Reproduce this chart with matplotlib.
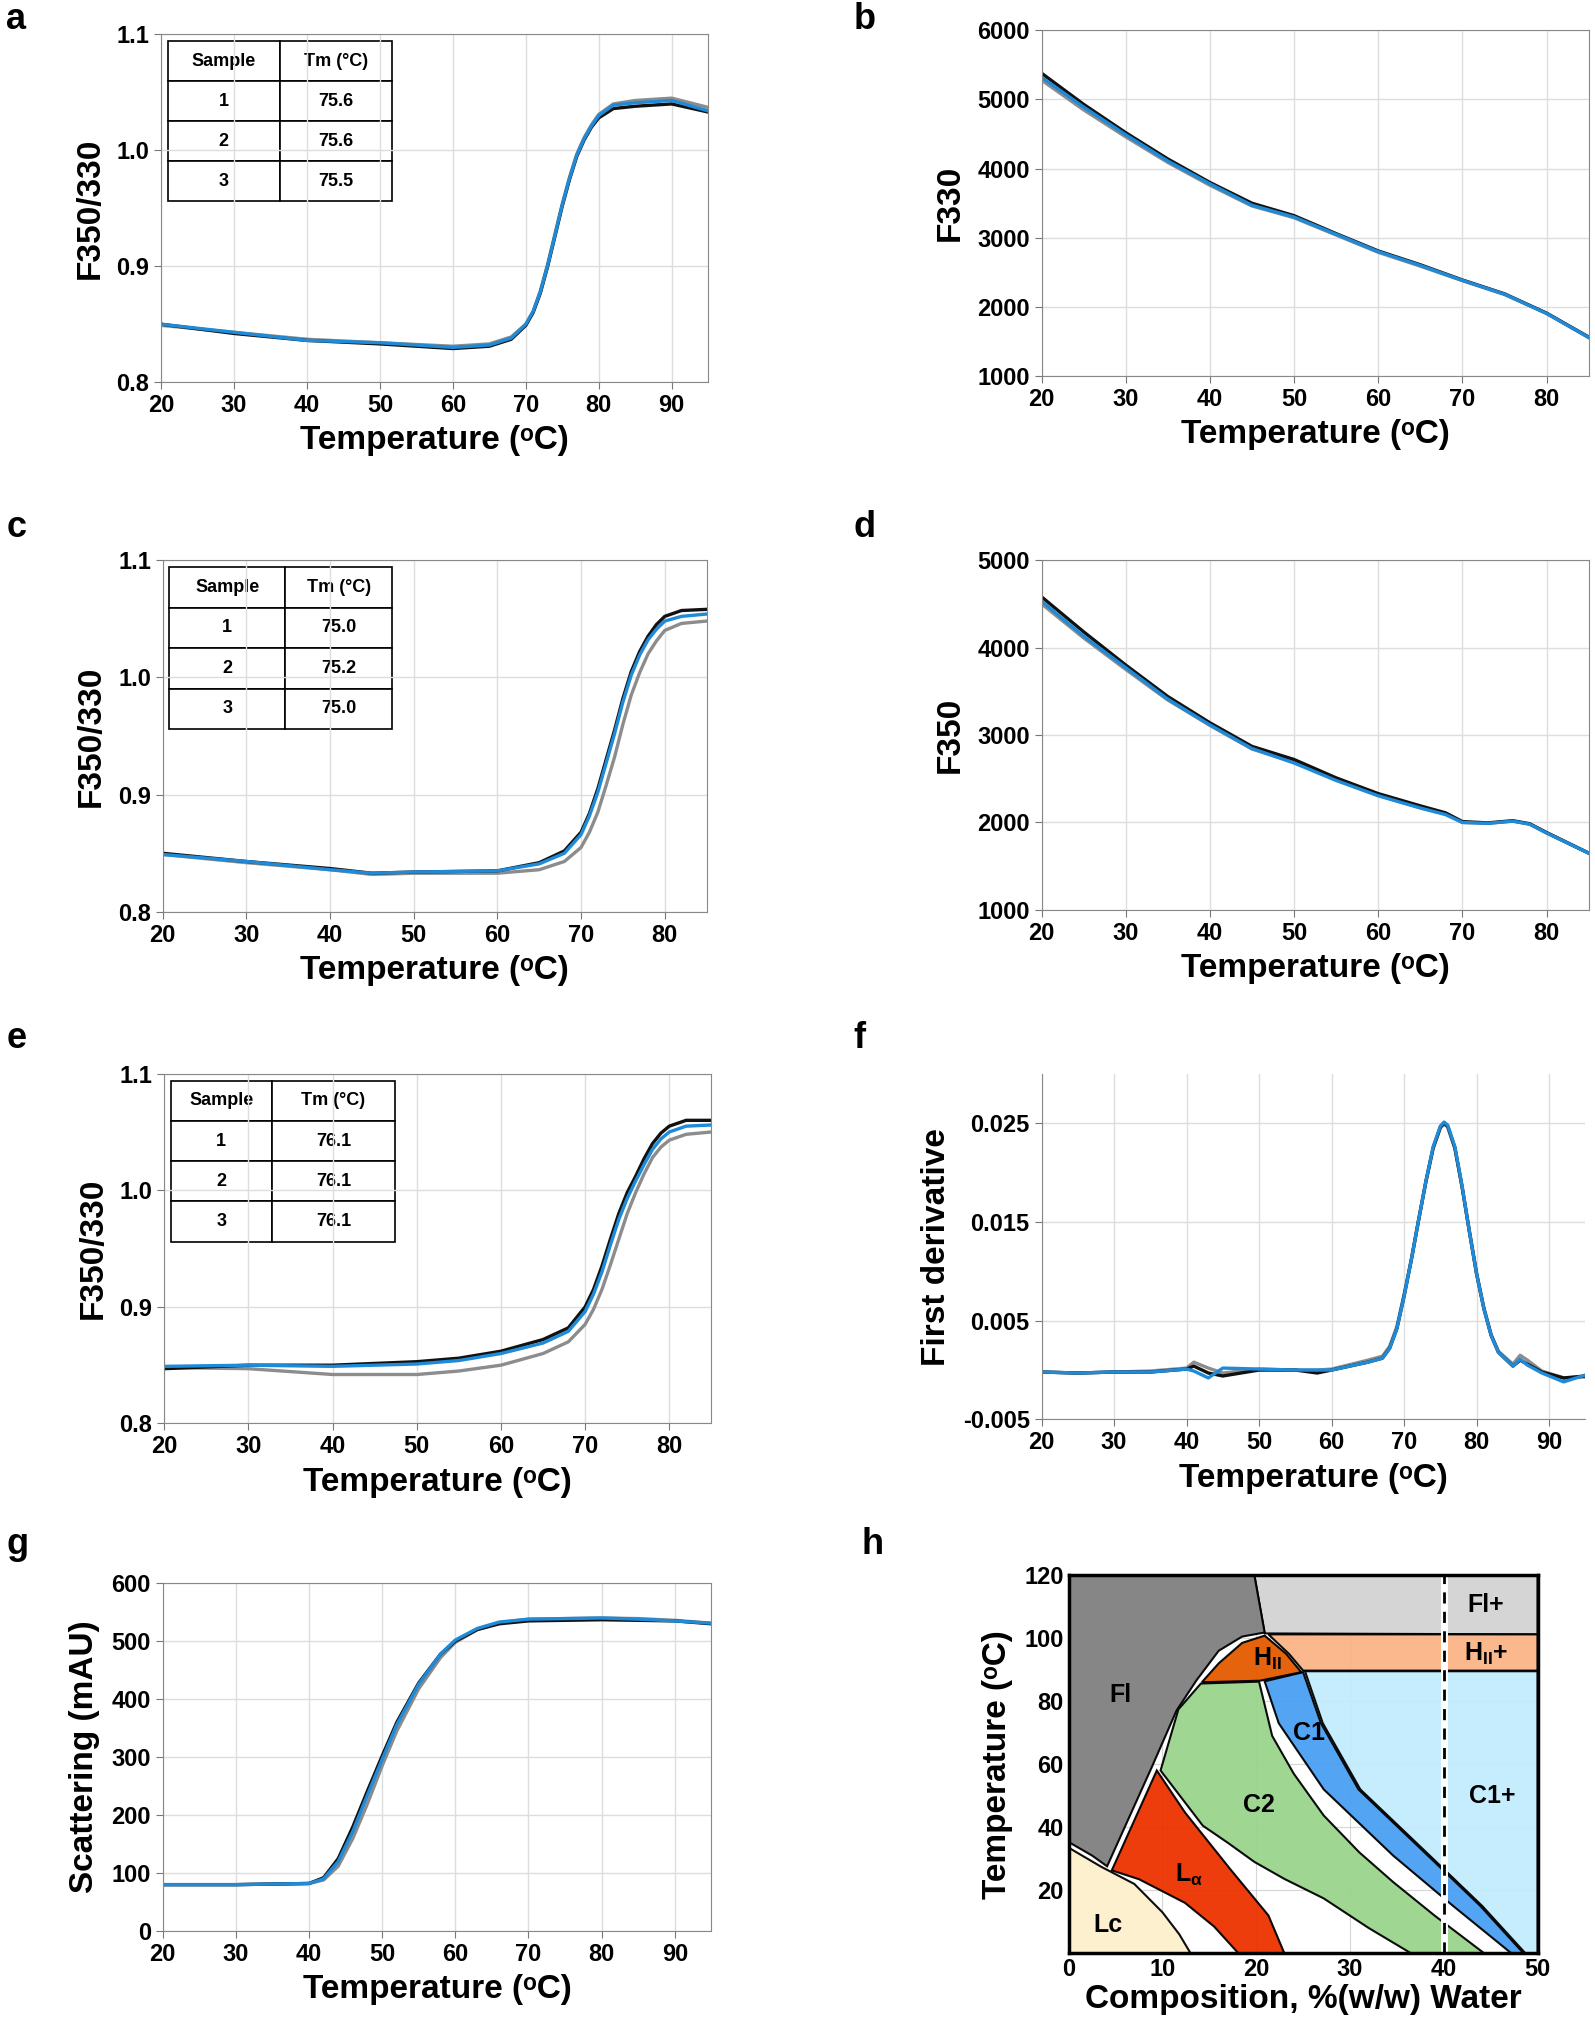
import matplotlib
matplotlib.use("Agg")
import matplotlib.pyplot as plt
from matplotlib.patches import Polygon
import numpy as np

plt.rcParams['font.family'] = ['Liberation Sans', 'DejaVu Sans']
plt.rcParams['font.weight'] = 'bold'

BLACK, GREY, BLUE = '#111111', '#8c8c8c', '#1f8ad8'

# ---- data ----
a_T = [20, 30, 40, 50, 60, 65, 68, 70, 71, 72, 73, 74, 75, 76, 77, 78, 79, 80, 82, 85, 90, 95]
a_s1 = [0.850, 0.842, 0.836, 0.833, 0.829, 0.831, 0.837, 0.849, 0.860, 0.877, 0.900, 0.926, 0.952, 0.975, 0.995, 1.009, 1.020, 1.028, 1.036, 1.038, 1.040, 1.033]
a_s2 = [0.849, 0.843, 0.837, 0.834, 0.831, 0.833, 0.839, 0.850, 0.861, 0.879, 0.902, 0.928, 0.954, 0.977, 0.997, 1.011, 1.022, 1.031, 1.040, 1.043, 1.045, 1.037]
a_s3 = [0.850, 0.843, 0.836, 0.834, 0.830, 0.832, 0.838, 0.850, 0.861, 0.878, 0.901, 0.927, 0.953, 0.976, 0.996, 1.010, 1.021, 1.030, 1.039, 1.041, 1.043, 1.034]
a_table = [['Sample', 'Tm (°C)'], ['1', '75.6'], ['2', '75.6'], ['3', '75.5']]

b_T = [20, 25, 30, 35, 40, 45, 50, 55, 60, 65, 70, 75, 80, 85]
b_s1 = [5380, 4930, 4520, 4140, 3800, 3500, 3320, 3060, 2810, 2610, 2390, 2190, 1910, 1560]
b_s2 = [5280, 4850, 4460, 4090, 3760, 3460, 3290, 3040, 2790, 2590, 2380, 2180, 1910, 1570]
b_s3 = [5320, 4890, 4490, 4110, 3780, 3470, 3300, 3050, 2800, 2600, 2385, 2185, 1905, 1560]

c_T = [20, 30, 40, 45, 50, 60, 65, 68, 70, 71, 72, 73, 74, 75, 76, 77, 78, 79, 80, 82, 85]
c_s1 = [0.850, 0.843, 0.837, 0.833, 0.834, 0.835, 0.842, 0.852, 0.868, 0.884, 0.905, 0.930, 0.955, 0.982, 1.005, 1.022, 1.035, 1.045, 1.052, 1.057, 1.058]
c_s2 = [0.849, 0.842, 0.836, 0.832, 0.833, 0.833, 0.836, 0.843, 0.855, 0.868, 0.885, 0.908, 0.932, 0.960, 0.985, 1.004, 1.020, 1.031, 1.040, 1.046, 1.048]
c_s3 = [0.849, 0.843, 0.836, 0.833, 0.834, 0.835, 0.841, 0.850, 0.866, 0.882, 0.902, 0.927, 0.952, 0.979, 1.002, 1.019, 1.032, 1.041, 1.048, 1.052, 1.054]
c_table = [['Sample', 'Tm (°C)'], ['1', '75.0'], ['2', '75.2'], ['3', '75.0']]

d_T = [20, 25, 30, 35, 40, 45, 50, 55, 60, 65, 68, 70, 73, 76, 78, 80, 85]
d_s1 = [4580, 4180, 3800, 3440, 3140, 2870, 2720, 2510, 2330, 2190, 2110, 2010, 1995, 2020, 1985, 1885, 1650]
d_s2 = [4500, 4110, 3750, 3400, 3110, 2840, 2690, 2490, 2310, 2170, 2095, 2000, 1990, 2015, 1980, 1880, 1650]
d_s3 = [4530, 4130, 3770, 3410, 3115, 2845, 2680, 2480, 2305, 2165, 2090, 2000, 1990, 2015, 1980, 1880, 1650]

e_T = [20, 30, 40, 50, 55, 60, 65, 68, 70, 71, 72, 73, 74, 75, 76, 77, 78, 79, 80, 82, 85]
e_s1 = [0.847, 0.850, 0.850, 0.853, 0.856, 0.862, 0.872, 0.882, 0.900, 0.915, 0.935, 0.958, 0.980, 0.998, 1.012, 1.027, 1.040, 1.049, 1.055, 1.060, 1.060]
e_s2 = [0.848, 0.847, 0.842, 0.842, 0.845, 0.850, 0.860, 0.870, 0.885, 0.898, 0.915, 0.936, 0.958, 0.980, 0.998, 1.014, 1.028, 1.037, 1.043, 1.048, 1.050]
e_s3 = [0.849, 0.850, 0.849, 0.851, 0.854, 0.860, 0.869, 0.879, 0.896, 0.911, 0.930, 0.953, 0.975, 0.993, 1.008, 1.022, 1.035, 1.044, 1.050, 1.055, 1.056]
e_table = [['Sample', 'Tm (°C)'], ['1', '76.1'], ['2', '76.1'], ['3', '76.1']]

f_T = [20, 25, 30, 35, 40, 41, 43, 45, 50, 55, 58, 60, 65, 67, 68, 69, 70, 71, 72, 73, 74, 75, 75.5, 76, 77, 78, 79, 80, 81, 82, 83, 85, 86, 87, 89, 92, 95]
f_s1 = [-0.0002, -0.0003, -0.0002, -0.0002, 0.0001, 0.0004, -0.0003, -0.0006, 0.0, 0.0, -0.0003, 0.0, 0.0008, 0.0012, 0.0022, 0.0042, 0.0075, 0.0112, 0.0152, 0.0191, 0.0225, 0.0246, 0.0250, 0.0247, 0.0225, 0.0185, 0.0140, 0.0097, 0.0062, 0.0035, 0.0018, 0.0004, 0.0010, 0.0006, -0.0002, -0.0008, -0.0006]
f_s2 = [-0.0002, -0.0003, -0.0002, -0.0001, 0.0002, 0.0008, 0.0002, -0.0003, 0.0001, 0.0, 0.0, 0.0001, 0.0010, 0.0014, 0.0024, 0.0044, 0.0077, 0.0112, 0.0152, 0.0190, 0.0224, 0.0245, 0.0249, 0.0246, 0.0224, 0.0185, 0.0141, 0.0098, 0.0063, 0.0036, 0.0019, 0.0006, 0.0015, 0.0010, -0.0001, -0.0008, -0.0007]
f_s3 = [-0.0002, -0.0003, -0.0002, -0.0002, 0.0001, -0.0001, -0.0008, 0.0002, 0.0001, 0.0, 0.0, 0.0, 0.0008, 0.0012, 0.0022, 0.0042, 0.0075, 0.0112, 0.0152, 0.0191, 0.0226, 0.0247, 0.0251, 0.0248, 0.0226, 0.0186, 0.0140, 0.0097, 0.0062, 0.0035, 0.0018, 0.0004, 0.0011, 0.0005, -0.0003, -0.0012, -0.0005]

g_T = [20, 30, 40, 42, 44, 46, 48, 50, 52, 55, 58, 60, 63, 66, 70, 80, 85, 90, 95]
g_s1 = [80, 80, 82, 92, 125, 180, 242, 302, 360, 428, 478, 500, 520, 530, 535, 537, 536, 535, 530]
g_s2 = [80, 80, 82, 88, 112, 160, 220, 285, 345, 418, 472, 498, 520, 532, 538, 540, 539, 536, 531]
g_s3 = [80, 80, 82, 90, 120, 172, 235, 296, 356, 426, 478, 502, 522, 533, 538, 540, 538, 535, 531]

# phase diagram regions (composition %w/w water, temperature °C)
h_Fl = [(0, 120), (19.8, 120), (20.9, 101.8), (18.5, 100.5), (16, 96), (13.6, 86.5), (11.5, 77), (8.9, 59.3), (4.1, 27.6), (2.5, 31), (0, 35.3)]
h_Flplus = [(19.8, 120), (50, 120), (50, 101.2), (20.9, 101.5)]
h_HIIplus = [(21.3, 101.2), (50, 101.2), (50, 89.7), (25.0, 89.7), (23.5, 95)]
h_HII = [(14.2, 86), (16, 92), (18.5, 98.5), (20.9, 100.8), (23.2, 95), (24.8, 89.2), (20.4, 86.5)]
h_C2 = [(14.1, 85.6), (20.3, 86.2), (21.7, 69), (24, 57), (27.2, 43.7), (31, 32), (34.6, 22.6), (39, 12), (44.3, 0), (36.5, 0), (32, 8), (27.2, 17.4), (23, 23.6), (19.8, 29), (17, 35), (14.3, 40.5), (9.8, 58), (11.7, 77.4)]
h_C1 = [(20.9, 86.3), (22.4, 73), (27.2, 52), (34.6, 31), (41, 15), (47.2, 0), (48.5, 0), (43.9, 15), (38.3, 31), (30.9, 52), (26.9, 73), (25.0, 89.2)]
h_C1plus = [(25.2, 89.5), (50, 89.5), (50, 0), (48.7, 0), (44.1, 15), (38.5, 31), (31.1, 52), (27.1, 73)]
h_La = [(9.4, 58), (4.6, 26.3), (7.5, 23.5), (12.4, 16), (15.5, 8.5), (18.1, 0), (23.0, 0), (21.3, 12), (17.2, 26.8), (12.4, 44.7)]
h_Lc = [(0, 0), (0, 33.5), (3.5, 27.4), (7, 22), (10, 13), (11.8, 6), (13.0, 0)]
h_labels = [('Fl', 5.5, 82), ('Fl+', 44.5, 110.5), ('H$_{\\mathregular{II}}$', 21.2, 93.5), ('H$_{\\mathregular{II}}$+', 44.5, 95),
            ('C1', 25.6, 70), ('C2', 20.3, 47), ('C1+', 45.2, 50), ('L$_{\\mathregular{\\alpha}}$', 12.8, 25), ('Lc', 4.2, 9)]

fig = plt.figure(figsize=(15.95, 20.22), dpi=100)

TICK = 17
LAB = 24


def style(ax, xt, yt, xlim, ylim, ylab, xlab='Temperature (ᵒC)', fmt=None, box=True):
    ax.set_xlim(*xlim)
    ax.set_ylim(*ylim)
    ax.set_xticks(xt)
    ax.set_yticks(yt)
    if fmt:
        ax.set_yticklabels([fmt.format(v) for v in yt])
    ax.grid(True, color='#dddddd', lw=1)
    ax.set_axisbelow(True)
    ax.tick_params(labelsize=TICK, length=5, color='#777777')
    for lab in ax.get_xticklabels() + ax.get_yticklabels():
        lab.set_fontweight('bold')
    for s in ax.spines.values():
        s.set_color('#888888')
    if not box:
        ax.spines['top'].set_visible(False)
        ax.spines['right'].set_visible(False)
    ax.set_xlabel(xlab, fontsize=LAB, fontweight='bold', labelpad=6)
    ax.set_ylabel(ylab, fontsize=LAB, fontweight='bold', labelpad=8)


def lines(ax, T, s1, s2, s3, lw=2.4):
    ax.plot(T, s2, color=GREY, lw=lw)
    ax.plot(T, s1, color=BLACK, lw=lw)
    ax.plot(T, s3, color=BLUE, lw=lw)


def table(ax, data, w=0.41, split=0.5):
    tb = ax.table(cellText=data, bbox=[0.012, 0.52, w, 0.46], cellLoc='center')
    tb.auto_set_font_size(False)
    tb.set_fontsize(13)
    for (r, c), cell in tb.get_celld().items():
        cell.set_linewidth(1.2)
        cell.set_facecolor('white')
        cell.get_text().set_fontweight('bold')
        cell.set_width(w * (split if c == 0 else 1 - split))


def plabel(x, y, t):
    fig.text(x, y, t, fontsize=26, fontweight='bold', va='top')

W = 0.343
H = 0.172
xl, xr = 0.101, 0.653

ax = fig.add_axes([xl, 0.811, W, H])
lines(ax, a_T, a_s1, a_s2, a_s3)
style(ax, range(20, 100, 10), [0.8, 0.9, 1.0, 1.1], (20, 95), (0.8, 1.1), 'F350/330', fmt='{:.1f}')
table(ax, a_table, 0.41, 0.5)
plabel(0.004, 0.999, 'a')

ax = fig.add_axes([xr, 0.814, W, 0.171])
lines(ax, b_T, b_s1, b_s2, b_s3)
style(ax, range(20, 90, 10), range(1000, 7000, 1000), (20, 85), (1000, 6000), 'F330')
plabel(0.535, 0.999, 'b')

ax = fig.add_axes([0.102, 0.549, 0.341, 0.174])
lines(ax, c_T, c_s1, c_s2, c_s3)
style(ax, range(20, 90, 10), [0.8, 0.9, 1.0, 1.1], (20, 85), (0.8, 1.1), 'F350/330', fmt='{:.1f}')
table(ax, c_table, 0.41, 0.52)
plabel(0.004, 0.748, 'c')

ax = fig.add_axes([xr, 0.550, W, 0.173])
lines(ax, d_T, d_s1, d_s2, d_s3)
style(ax, range(20, 90, 10), range(1000, 6000, 1000), (20, 85), (1000, 5000), 'F350')
plabel(0.535, 0.748, 'd')

ax = fig.add_axes([0.103, 0.296, 0.343, 0.173])
lines(ax, e_T, e_s1, e_s2, e_s3)
style(ax, range(20, 90, 10), [0.8, 0.9, 1.0, 1.1], (20, 85), (0.8, 1.1), 'F350/330', fmt='{:.1f}')
table(ax, e_table, 0.41, 0.45)
plabel(0.004, 0.495, 'e')

ax = fig.add_axes([xr, 0.298, 0.341, 0.171])
lines(ax, f_T, f_s1, f_s2, f_s3)
style(ax, range(20, 100, 10), [-0.005, 0.005, 0.015, 0.025], (20, 95), (-0.005, 0.03), 'First derivative', fmt='{:.3f}', box=False)
plabel(0.535, 0.495, 'f')

ax = fig.add_axes([0.102, 0.045, 0.344, 0.172])
lines(ax, g_T, g_s1, g_s2, g_s3)
style(ax, range(20, 100, 10), range(0, 700, 100), (20, 95), (0, 600), 'Scattering (mAU)')
plabel(0.004, 0.245, 'g')

ax = fig.add_axes([0.670, 0.034, 0.294, 0.187])
ax.set_xlim(0, 50)
ax.set_ylim(0, 120)
ax.set_xticks(range(0, 60, 10))
ax.set_yticks(range(20, 140, 20))
ax.grid(True, color='#bbbbbb', lw=0.8, alpha=0.6)
regions = [(h_Flplus, '#d3d3d3'), (h_Fl, '#808080'), (h_HIIplus, '#fbb486'), (h_C1plus, '#c3ecfd'),
           (h_C2, '#99d48c'), (h_C1, '#4a9ff2'), (h_La, '#ec3200'), (h_Lc, '#fdf0cc'), (h_HII, '#e45b00')]
for pts, col in regions:
    ax.add_patch(Polygon(pts, closed=True, facecolor=col, edgecolor='black', lw=1.5, alpha=0.95, zorder=2))
ax.axvline(40, color='white', lw=5, zorder=3)
ax.axvline(40, color='black', lw=2, ls=(0, (4, 3)), zorder=4)
for t, x, y in h_labels:
    ax.text(x, y, t, fontsize=18, fontweight='bold', ha='center', va='center', zorder=5)
for s in ax.spines.values():
    s.set_linewidth(2.5)
    s.set_zorder(6)
ax.tick_params(labelsize=TICK, length=0)
for lab in ax.get_xticklabels() + ax.get_yticklabels():
    lab.set_fontweight('bold')
ax.set_xlabel('Composition, %(w/w) Water', fontsize=LAB, fontweight='bold', labelpad=2)
ax.set_ylabel('Temperature (ᵒC)', fontsize=LAB, fontweight='bold', labelpad=8)
plabel(0.540, 0.245, 'h')

fig.savefig('out.png', dpi=100)
